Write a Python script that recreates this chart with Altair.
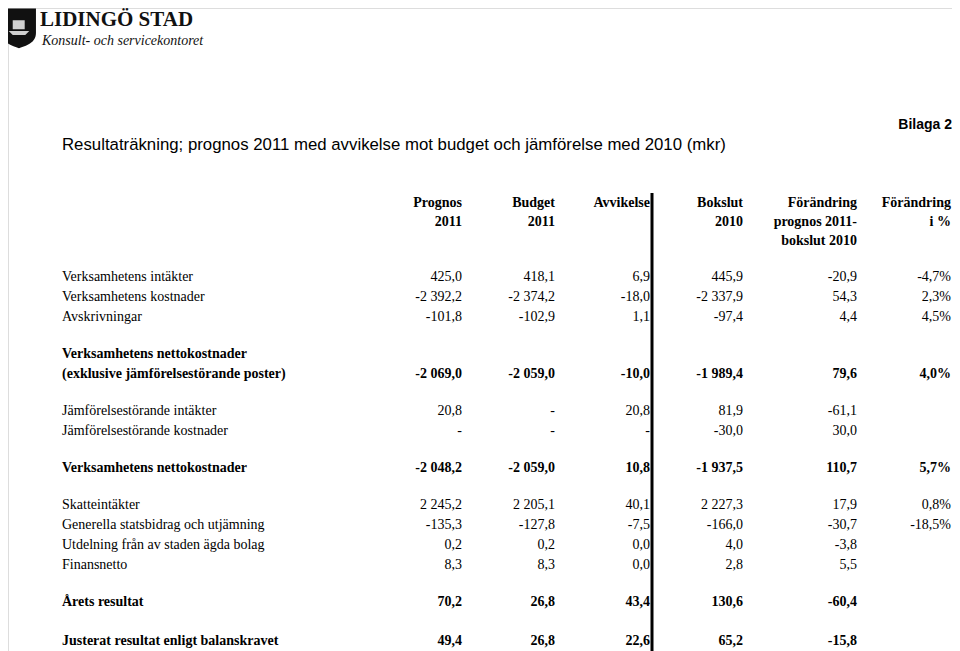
import altair as alt
import pandas as pd

# ---------------- data ----------------
columns = ["label", "prognos", "budget", "avvikelse", "bokslut", "forandring", "procent"]

header_texts = {
    "prognos": ["Prognos", "2011"],
    "budget": ["Budget", "2011"],
    "avvikelse": ["Avvikelse"],
    "bokslut": ["Bokslut", "2010"],
    "forandring": ["Förändring", "prognos 2011-", "bokslut 2010"],
    "procent": ["Förändring", "i %"],
}

labels = [
    ["Verksamhetens intäkter"],
    ["Verksamhetens kostnader"],
    ["Avskrivningar"],
    ["Verksamhetens nettokostnader", "(exklusive jämförelsestörande poster)"],
    ["Jämförelsestörande intäkter"],
    ["Jämförelsestörande kostnader"],
    ["Verksamhetens nettokostnader"],
    ["Skatteintäkter"],
    ["Generella statsbidrag och utjämning"],
    ["Utdelning från av staden ägda bolag"],
    ["Finansnetto"],
    ["Årets resultat"],
    ["Justerat resultat enligt balanskravet"],
]
row_kind = ["item", "item", "item", "total", "item", "item", "total",
            "item", "item", "item", "item", "total", "total"]
sections = [[0, 1, 2], [3], [4, 5], [6], [7, 8, 9, 10], [11], [12]]

prognos = [425.0, -2392.2, -101.8, -2069.0, 20.8, None, -2048.2, 2245.2, -135.3, 0.2, 8.3, 70.2, 49.4]
budget = [418.1, -2374.2, -102.9, -2059.0, None, None, -2059.0, 2205.1, -127.8, 0.2, 8.3, 26.8, 26.8]
avvikelse = [6.9, -18.0, 1.1, -10.0, 20.8, None, 10.8, 40.1, -7.5, 0.0, 0.0, 43.4, 22.6]
bokslut = [445.9, -2337.9, -97.4, -1989.4, 81.9, -30.0, -1937.5, 2227.3, -166.0, 4.0, 2.8, 130.6, 65.2]
forandring = [-20.9, 54.3, 4.4, 79.6, -61.1, 30.0, 110.7, 17.9, -30.7, -3.8, 5.5, -60.4, -15.8]
procent = [-4.7, 2.3, 4.5, 4.0, None, None, 5.7, 0.8, -18.5, None, None, None, None]

title_text = "Resultaträkning; prognos 2011 med avvikelse mot budget och jämförelse med 2010 (mkr)"
bilaga_text = "Bilaga 2"


# ---------------- formatting ----------------
def fmt_num(v):
    if v is None:
        return "-"
    s = f"{abs(v):,.1f}".replace(",", " ").replace(".", ",")
    return ("-" if v < 0 else "") + s


def fmt_pct(v):
    if v is None:
        return ""
    return f"{v:.1f}%".replace(".", ",")


col_index = {c: i for i, c in enumerate(columns)}

# line positions (in text-line units)
SECTION_GAP = 0.85
row_line = {}
label_lines = []
cur = 0.0
for si, sec in enumerate(sections):
    if si > 0:
        cur += SECTION_GAP
    for r in sec:
        n = len(labels[r])
        for j, t in enumerate(labels[r]):
            label_lines.append({"ci": 0, "text": t, "line": cur + j, "kind": row_kind[r]})
        row_line[r] = cur + n - 1
        cur += n
    if si == len(sections) - 2:
        cur += 0.1

value_cols = {
    "prognos": [fmt_num(v) for v in prognos],
    "budget": [fmt_num(v) for v in budget],
    "avvikelse": [fmt_num(v) for v in avvikelse],
    "bokslut": [fmt_num(v) for v in bokslut],
    "forandring": [fmt_num(v) for v in forandring],
    "procent": [fmt_pct(v) for v in procent],
}
value_recs = []
for c, vals in value_cols.items():
    for r, t in enumerate(vals):
        value_recs.append({"ci": col_index[c], "text": t, "line": row_line[r], "kind": row_kind[r]})

HEADER_TOP = -3.7
HEADER_STEP = 0.95
header_recs = []
for c, lines in header_texts.items():
    for j, t in enumerate(lines):
        header_recs.append({"ci": col_index[c], "text": t, "line": HEADER_TOP + j * HEADER_STEP})

labels_df = pd.DataFrame(label_lines)
values_df = pd.DataFrame(value_recs)
header_df = pd.DataFrame(header_recs)

# ---------------- scales ----------------
xscale = alt.Scale(domain=list(range(len(columns))),
                   range=[54, 454, 547, 642, 735, 849, 943], nice=False, zero=False)
yscale = alt.Scale(domain=[0, 20], range=[269, 669], nice=False, zero=False)
X = alt.X("ci:Q", scale=xscale, axis=None)
Y = alt.Y("line:Q", scale=yscale, axis=None)

SERIF = "Liberation Serif"
SANS = "Liberation Sans, Arial, sans-serif"
FS = 14

lab_item = alt.Chart(labels_df).transform_filter(alt.datum.kind == "item").mark_text(
    align="left", baseline="middle", font=SERIF, fontSize=FS, color="#000"
).encode(x=X, y=Y, text="text:N")
lab_total = alt.Chart(labels_df).transform_filter(alt.datum.kind == "total").mark_text(
    align="left", baseline="middle", font=SERIF, fontSize=FS, fontWeight="bold", color="#000"
).encode(x=X, y=Y, text="text:N")
val_item = alt.Chart(values_df).transform_filter(alt.datum.kind == "item").mark_text(
    align="right", baseline="middle", font=SERIF, fontSize=FS, color="#000"
).encode(x=X, y=Y, text="text:N")
val_total = alt.Chart(values_df).transform_filter(alt.datum.kind == "total").mark_text(
    align="right", baseline="middle", font=SERIF, fontSize=FS, fontWeight="bold", color="#000"
).encode(x=X, y=Y, text="text:N")
headers = alt.Chart(header_df).mark_text(
    align="right", baseline="middle", font=SERIF, fontSize=FS, fontWeight="bold", color="#000"
).encode(x=X, y=Y, text="text:N")

anchor = pd.DataFrame({"k": [0]})
vline = alt.Chart(anchor).mark_rule(color="#000", strokeWidth=3).encode(
    x=alt.value(644), y=alt.value(185), y2=alt.value(643)
)
title = alt.Chart(anchor).mark_text(
    align="left", baseline="middle", font=SANS, fontSize=16.8, color="#000"
).encode(x=alt.value(54), y=alt.value(137), text=alt.value(title_text))
bilaga = alt.Chart(anchor).mark_text(
    align="right", baseline="middle", font=SANS, fontSize=14, fontWeight="bold", color="#000"
).encode(x=alt.value(944), y=alt.value(117), text=alt.value(bilaga_text))

# logo
shield = alt.Chart(anchor).mark_point(
    shape="M-1,-1.15 L1,-1.15 L1,0.3 C1,0.9 0.4,1.05 0,1.2 C-0.4,1.05 -1,0.9 -1,0.3 Z",
    filled=True, color="#111", opacity=1, size=1150,
).encode(x=alt.value(11), y=alt.value(20))
sail = alt.Chart(anchor).mark_point(
    shape="M-0.55,-0.6 L0.5,-0.6 L0.5,0.2 L-0.55,0.2 Z M-0.9,0.35 L0.9,0.35 L0.55,0.7 L-0.55,0.7 Z",
    filled=True, color="#d0d0d0", opacity=1, size=520,
).encode(x=alt.value(11), y=alt.value(19))
logo1 = alt.Chart(anchor).mark_text(
    align="left", baseline="middle", font=SERIF, fontSize=21, fontWeight="bold", color="#111"
).encode(x=alt.value(32), y=alt.value(12), text=alt.value("LIDINGÖ STAD"))
logo2 = alt.Chart(anchor).mark_text(
    align="left", baseline="middle", font=SERIF, fontSize=14, fontStyle="italic", color="#111"
).encode(x=alt.value(34), y=alt.value(33), text=alt.value("Konsult- och servicekontoret"))

chart = alt.layer(
    vline, lab_item, lab_total, val_item, val_total, headers, title, bilaga,
    shield, sail, logo1, logo2
).properties(
    width=944, height=643, padding=0,
    autosize=alt.AutoSizeParams(type="none"),
).configure_view(stroke="transparent", strokeWidth=0).configure(background="white")

chart.save("out.html", embed_options={"renderer": "svg", "actions": False})
